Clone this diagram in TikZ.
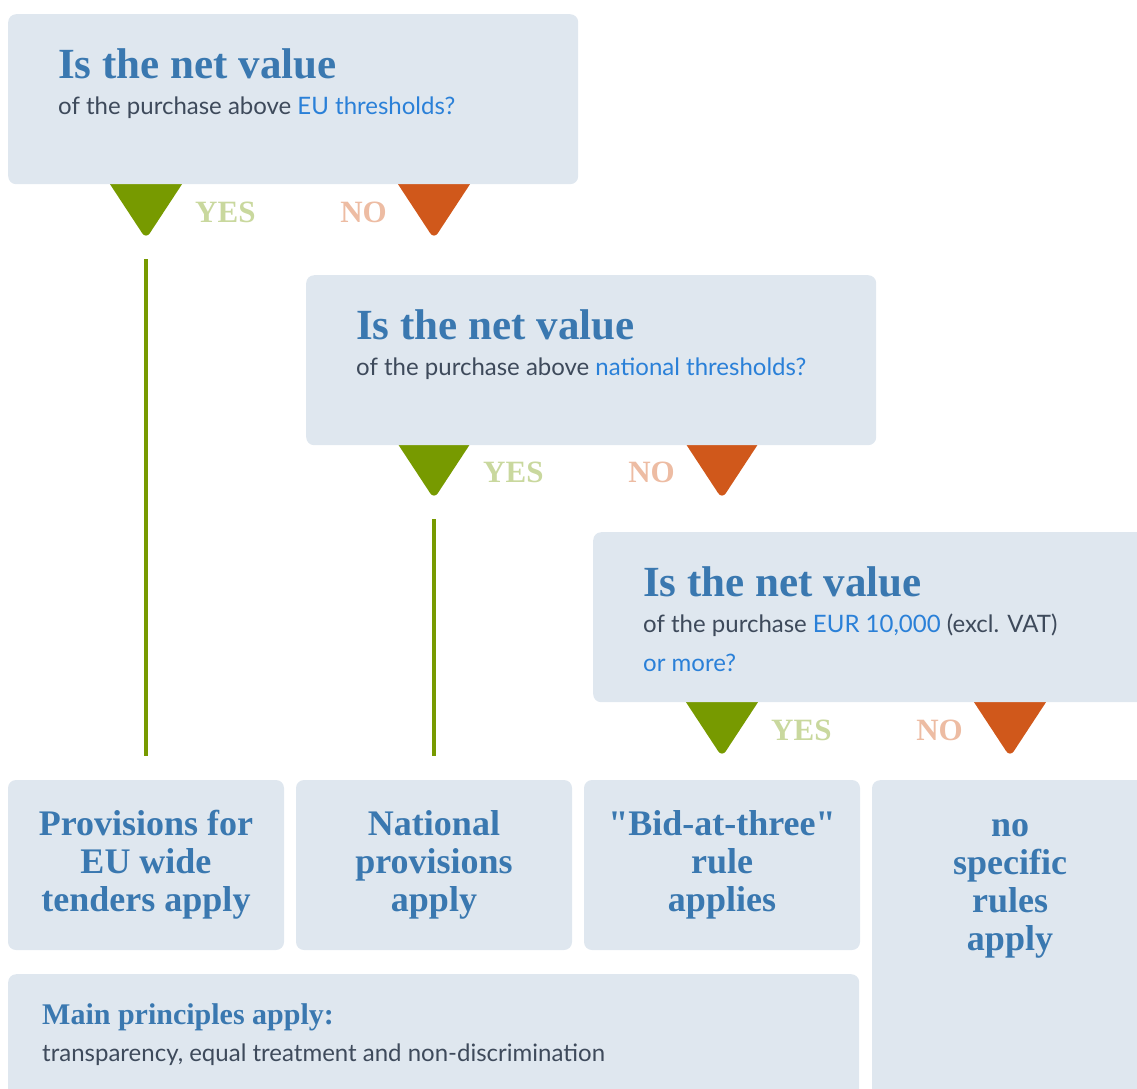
\documentclass[tikz,border=0pt]{standalone}
\usepackage{fontspec}
\setmainfont{Lato}
\newfontfamily\serifhead{Liberation Serif}
\usetikzlibrary{positioning,backgrounds}
\definecolor{boxbg}{HTML}{DFE7EF}
\definecolor{headblue}{HTML}{3A78B0}
\definecolor{linkblue}{HTML}{2A80D8}
\definecolor{bodytxt}{HTML}{3E4A5B}
\definecolor{yesgreen}{HTML}{779A00}
\definecolor{nored}{HTML}{D0581B}
\definecolor{yestxt}{HTML}{C9D89E}
\definecolor{notxt}{HTML}{EDBCA3}
\newcommand{\keyterm}[1]{\textcolor{linkblue}{#1}}
\tikzset{
  question/.style={fill=boxbg, rounded corners=8pt, minimum width=570pt, minimum height=170pt, anchor=north west, inner sep=0pt},
  restext/.style={inner sep=0pt, align=center, text=headblue, font=\serifhead\bfseries\fontsize{36}{38}\selectfont},
  result/.style={restext, fill=boxbg, rounded corners=8pt, minimum width=276pt, minimum height=170pt},
  headline/.style={anchor=base west, inner sep=0pt, text=headblue, font=\serifhead\bfseries\fontsize{43}{48}\selectfont},
  subline/.style={anchor=base west, inner sep=0pt, text=bodytxt, font=\fontsize{24}{28}\selectfont},
  yeslabel/.style={anchor=west, inner sep=0pt, text=yestxt, font=\serifhead\bfseries\fontsize{31}{36}\selectfont},
  nolabel/.style={yeslabel, anchor=east, text=notxt},
  yesline/.style={yesgreen, line width=4pt},
}
\begin{document}
\begin{tikzpicture}[x=1pt,y=-1pt]
  \useasboundingbox (0,0) rectangle (1137,1088);
  % the three questions
  \node[question] (q1) at (8,14) {};
  \node[question] (q2) at (306,275) {};
  \node[question] (q3) at (593,532) {};
  \node[headline] (q1head) at ([xshift=50pt,yshift=-64pt]q1.north west) {Is the net value};
  \node[subline] (q1sub) at ([yshift=-36pt]q1head.base west) {of the purchase above \keyterm{EU thresholds?}};
  \node[headline] (q2head) at ([xshift=50pt,yshift=-64pt]q2.north west) {Is the net value};
  \node[subline] (q2sub) at ([yshift=-36pt]q2head.base west) {of the purchase above \keyterm{national thresholds?}};
  \node[headline] (q3head) at ([xshift=50pt,yshift=-64pt]q3.north west) {Is the net value};
  \node[subline] (q3sub) at ([yshift=-36pt]q3head.base west) {of the purchase \keyterm{EUR 10,000} (excl. VAT)};
  \node[subline] (q3more) at ([yshift=-39pt]q3sub.base west) {\keyterm{or more?}};
  % yes / no tips under each question
  \foreach \q/\yx/\nx/\by in {1/146/434/184, 2/434/722/444, 3/722/1010/702} {
    \coordinate (yes\q) at (\yx,\by+55);
    \coordinate (no\q) at (\nx,\by+55);
    \begin{pgfonlayer}{background}
      \fill[yesgreen, rounded corners=7pt] (\yx-44,\by-12) -- (\yx+44,\by-12) -- (yes\q) -- cycle;
      \fill[nored, rounded corners=7pt] (\nx-44,\by-12) -- (\nx+44,\by-12) -- (no\q) -- cycle;
    \end{pgfonlayer}
    \node[yeslabel] (yeslbl\q) at (\yx+49,\by+28) {YES};
    \node[nolabel] (nolbl\q) at (\nx-47,\by+28) {NO};
  }
  % outcomes
  \node[result] (euwide) at (146,865) {Provisions for\\EU wide\\tenders apply};
  \node[result] (national) at (434,865) {National\\provisions\\apply};
  \node[result] (bidthree) at (722,865) {"Bid-at-three"\\rule\\applies};
  \node[result, minimum height=400pt, anchor=north] (norules) at (1010,780) {};
  \node[restext] (norulestxt) at (1010,889) {no\\specific\\rules\\apply};
  \node[question, minimum width=851pt, minimum height=200pt] (principles) at (8,974) {};
  \node[headline, font=\serifhead\bfseries\fontsize{30}{34}\selectfont] (printitle) at (42,1024) {Main principles apply:};
  \node[subline, font=\fontsize{24}{28}\selectfont] (prinlist) at (42,1061) {transparency, equal treatment and non-discrimination};
  \draw[yesline] ([yshift=-20pt]yes1) -- ([yshift=24pt]euwide.north);
  \draw[yesline] ([yshift=-20pt]yes2) -- ([yshift=24pt]national.north);
\end{tikzpicture}
\end{document}
